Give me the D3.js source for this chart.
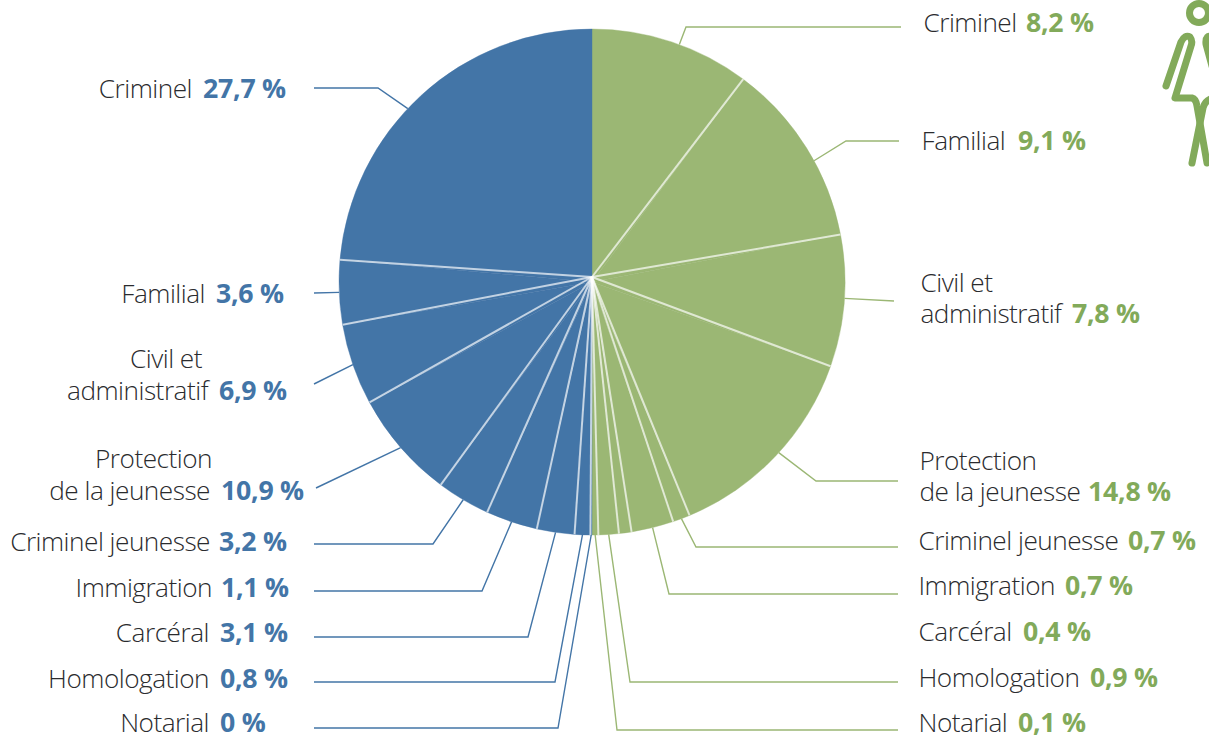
<!DOCTYPE html>
<html>
<head>
<meta charset="utf-8">
<script src="https://cdn.jsdelivr.net/npm/d3@7"></script>
<style>
	html, body { margin: 0; padding: 0; background: #fff; overflow: hidden; }
	text { font-family: 'Open Sans', sans-serif; }
	.name { font-weight: 300; font-size: 26.2px; fill: #2a2b2e; letter-spacing: -0.5px; }
	.value { font-weight: 700; font-size: 26.7px; letter-spacing: -0.25px; }
</style>
</head>
<body>
<div id="viz"></div>
<script>
// printed numbers
const categories = ['Criminel', 'Familial', 'Civil et|administratif', 'Protection|de la jeunesse', 'Criminel jeunesse', 'Immigration', 'Carcéral', 'Homologation', 'Notarial'];
const womenValues = [8.2, 9.1, 7.8, 14.8, 0.7, 0.7, 0.4, 0.9, 0.1];
const menValues = [27.7, 3.6, 6.9, 10.9, 3.2, 1.1, 3.1, 0.8, 0];

// slice sizes as drawn in the picture (% of the disc), they don't follow the printed numbers
const womenSlices = [10.2, 11.8, 8.4, 13.3, 1.1, 2.7, 0.8, 1.3, 0.4];
const menSlices = [23.6, 4.1, 5.2, 6.9, 3.4, 3.3, 2.4, 1.0, 0.1];

const GREEN = '#9bb774';
const GREEN_TEXT = '#82aa5a';
const BLUE = '#4375a7';
const BLUE_TEXT = '#4375a7';

const WIDTH = 1209;
const HEIGHT = 738;
const CX = 592;
const CY = 282;
const RADIUS = 253;
const HUB_Y = 277; // spokes meet a little above the centre of the disc

// label layout, one row per category: name x, baselines, value x
const womenLabels = [
	{ x: 923.5, y: [32], vx: 1026 },
	{ x: 921.5, y: [150], vx: 1018 },
	{ x: 920.5, y: [292, 323], vx: 1072 },
	{ x: 919.5, y: [470, 501], vx: 1088 },
	{ x: 918.5, y: [550], vx: 1128 },
	{ x: 918.5, y: [595], vx: 1065 },
	{ x: 918.5, y: [641], vx: 1023 },
	{ x: 918.5, y: [687], vx: 1090 },
	{ x: 918.5, y: [732], vx: 1018 }
];
const menLabels = [
	{ x: 192, y: [98], vx: 203 },
	{ x: 205, y: [303], vx: 216 },
	{ x: 202, y: [368, 400], x2: 208, vx: 219 },
	{ x: 212, y: [468, 500], x2: 210, vx: 221 },
	{ x: 210, y: [551], vx: 219 },
	{ x: 212, y: [597], vx: 221 },
	{ x: 209, y: [642], vx: 220 },
	{ x: 209, y: [688], vx: 220 },
	{ x: 209, y: [732], vx: 220 }
];

// leader lines: where on the slice they leave (0-1), then elbow and end points
const womenLeaders = [
	{ at: 0.55, pts: [[686, 27], [901, 27]] },
	{ at: 0.58, pts: [[846, 141], [899, 141]] },
	{ at: 0.48, pts: [[894, 301]] },
	{ at: 0.48, pts: [[816, 481], [898, 481]] },
	{ at: 0.5, pts: [[696, 547], [898, 547]] },
	{ at: 0.5, pts: [[669, 594], [898, 594]] },
	null,
	{ at: 0.5, pts: [[630, 682], [898, 682]] },
	{ at: 0.5, pts: [[617, 730], [898, 730]] }
];
const menLeaders = [
	{ at: 0.55, pts: [[378, 88], [314, 88]] },
	{ at: 0.5, pts: [[314, 293]] },
	{ at: 0.5, pts: [[314, 384]] },
	{ at: 0.5, pts: [[316, 488]] },
	{ at: 0.5, pts: [[433, 544], [314, 544]] },
	{ at: 0.5, pts: [[482, 591], [314, 591]] },
	{ at: 0.5, pts: [[528, 637], [314, 637]] },
	{ at: 0.5, pts: [[555, 682], [314, 682]] },
	{ at: 0.5, pts: [[558, 728], [314, 728]] }
];

const formatPct = (v) => String(v).replace('.', ',') + ' %';

const svg = d3.select('#viz').append('svg')
	.attr('width', WIDTH)
	.attr('height', HEIGHT)
	.style('display', 'block');

// green runs clockwise from the top, blue carries on from the bottom back up to the top
const slices = womenSlices.map((v, i) => ({ side: 'women', i: i, value: v }))
	.concat(menSlices.map((v, i) => ({ side: 'men', i: i, value: v })).reverse());

const color = d3.scaleOrdinal().domain(['women', 'men']).range([GREEN, BLUE]);
const textColor = d3.scaleOrdinal().domain(['women', 'men']).range([GREEN_TEXT, BLUE_TEXT]);

const arcs = d3.pie().sort(null).value((d) => d.value)(slices);
const generateArc = d3.arc().innerRadius(0).outerRadius(RADIUS);

const pieGroup = svg.append('g')
	.attr('class', 'pie')
	.attr('transform', 'translate(' + CX + ',' + CY + ')');

pieGroup.selectAll('.slice')
	.data(arcs)
	.enter()
	.append('path')
	.attr('class', 'slice')
	.attr('fill', (d) => color(d.data.side))
	.attr('stroke', (d) => color(d.data.side))
	.attr('stroke-width', 0.4)
	.attr('d', generateArc);

const rimPoint = (angle) => [CX + RADIUS * Math.sin(angle), CY - RADIUS * Math.cos(angle)];

// spokes
svg.append('g')
	.attr('class', 'spokes')
	.selectAll('line')
	.data(arcs.filter((d) => d.index > 0 && Math.abs(d.startAngle - Math.PI) > 0.001))
	.enter()
	.append('line')
	.attr('x1', CX)
	.attr('y1', HUB_Y)
	.attr('x2', (d) => rimPoint(d.startAngle)[0])
	.attr('y2', (d) => rimPoint(d.startAngle)[1])
	.attr('stroke', '#fff')
	.attr('stroke-opacity', 0.68)
	.attr('stroke-width', 2);

// leaders
const leaderLine = d3.line();
const leaders = { women: womenLeaders, men: menLeaders };

svg.append('g')
	.attr('class', 'leaders')
	.selectAll('path')
	.data(arcs.filter((d) => leaders[d.data.side][d.data.i]))
	.enter()
	.append('path')
	.attr('fill', 'none')
	.attr('stroke', (d) => color(d.data.side))
	.attr('stroke-width', 1.4)
	.attr('d', (d) => {
		const leader = leaders[d.data.side][d.data.i];
		// men's slices run the other way round
		const at = d.data.side === 'men' ? 1 - leader.at : leader.at;
		const angle = d.startAngle + at * (d.endAngle - d.startAngle);
		return leaderLine([rimPoint(angle)].concat(leader.pts));
	});

// labels
function drawLabels(side, values, layout, anchor) {
	const g = svg.append('g').attr('class', 'labels-' + side);
	categories.forEach((name, i) => {
		const row = layout[i];
		const lines = name.split('|');
		lines.forEach((line, j) => {
			g.append('text')
				.attr('class', 'name')
				.attr('x', j > 0 && row.x2 ? row.x2 : row.x)
				.attr('y', row.y[j])
				.attr('text-anchor', anchor)
				.text(line);
		});
		g.append('text')
			.attr('class', 'value')
			.attr('x', row.vx)
			.attr('y', row.y[row.y.length - 1])
			.attr('fill', textColor(side))
			.text(formatPct(values[i]));
	});
}
drawLabels('women', womenValues, womenLabels, 'start');
drawLabels('men', menValues, menLabels, 'end');

// woman pictogram, runs off the right edge
const icon = svg.append('g')
	.attr('class', 'icon')
	.attr('fill', 'none')
	.attr('stroke', GREEN_TEXT)
	.attr('stroke-width', 7)
	.attr('stroke-linecap', 'round')
	.attr('stroke-linejoin', 'round');

icon.append('circle').attr('cx', 1199).attr('cy', 13).attr('r', 9.5);
icon.append('path').attr('d', 'M1166 86 L1181 42 Q1185 34 1190 37 Q1193 41 1191 46 L1175 98 L1192 98 Q1196 99 1197 106 L1207 163');
icon.append('path').attr('d', 'M1192 163 L1203 108 Q1205 100 1213 98');
icon.append('path').attr('d', 'M1213 37 Q1205 34 1206 44 L1212 66');
</script>
</body>
</html>
